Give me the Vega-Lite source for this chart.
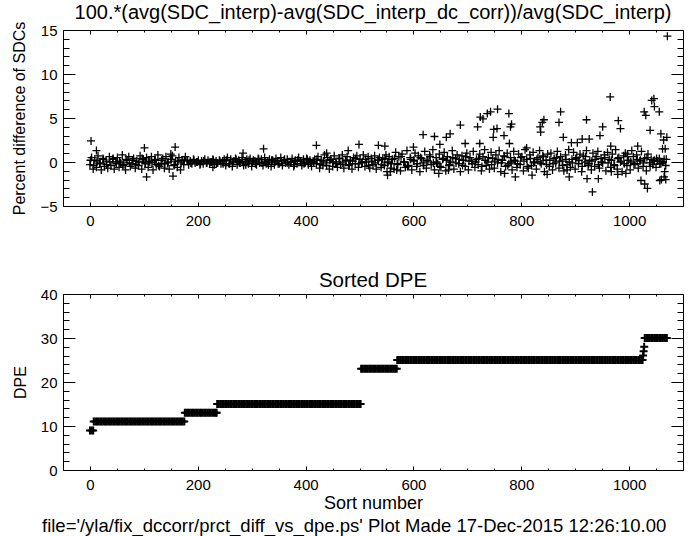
{
"$schema": "https://vega.github.io/schema/vega-lite/v6.json",
"background": "white",
"padding": {"left": 11, "top": 2, "right": 5, "bottom": 2},
"bounds": "flush",
"spacing": 88,
"config": {
  "font": "Liberation Sans",
  "view": {"stroke": "#000", "strokeWidth": 1},
  "axis": {"domain": false, "grid": false, "ticks": true, "tickColor": "#000", "tickWidth": 1, "tickOpacity": 1, "labelColor": "#000", "labelFont": "Liberation Sans", "labelFontSize": 15, "labelOverlap": false, "titleFont": "Liberation Sans", "titleFontSize": 16, "titleFontWeight": "normal", "titleColor": "#000", "format": "d", "zindex": 2},
  "title": {"font": "Liberation Sans", "fontWeight": "normal", "color": "#000"}
},
"title": {"text": "file='/yla/fix_dccorr/prct_diff_vs_dpe.ps'  Plot Made 17-Dec-2015 12:26:10.00", "orient": "bottom", "anchor": "start", "frame": "group", "fontSize": 18.5, "offset": 4, "dx": -21},
"datasets": {
"top": [
{"x":0,"y":-0.3},{"x":3,"y":0.5},{"x":6,"y":-0.8},{"x":9,"y":0.2},{"x":12,"y":-0.6},{"x":15,"y":0.7},{"x":18,"y":-0.2},{"x":21,"y":-0.9},{"x":24,"y":0.4},{"x":27,"y":-0.5},
{"x":30,"y":0.1},{"x":33,"y":-0.7},{"x":36,"y":0.6},{"x":39,"y":-0.4},{"x":42,"y":0.3},{"x":45,"y":-0.8},{"x":48,"y":0},{"x":51,"y":0.5},{"x":54,"y":-0.6},{"x":57,"y":-0.1},
{"x":60,"y":0.8},{"x":63,"y":-0.3},{"x":66,"y":-0.9},{"x":69,"y":0.2},{"x":72,"y":0.6},{"x":75,"y":-0.5},{"x":78,"y":-0.2},{"x":81,"y":0.4},{"x":84,"y":-0.7},{"x":87,"y":0.1},
{"x":90,"y":-0.4},{"x":93,"y":0.7},{"x":96,"y":-0.8},{"x":99,"y":0.3},{"x":102,"y":-0.1},{"x":105,"y":0.5},{"x":108,"y":-0.6},{"x":111,"y":0},{"x":114,"y":0.6},{"x":117,"y":-0.9},
{"x":120,"y":0.2},{"x":123,"y":-0.3},{"x":126,"y":0.8},{"x":129,"y":-0.5},{"x":132,"y":-0.2},{"x":135,"y":0.4},{"x":138,"y":-0.7},{"x":141,"y":0.6},{"x":144,"y":-0.1},{"x":147,"y":-0.8},
{"x":150,"y":0.3},{"x":153,"y":0.7},{"x":156,"y":-0.4},{"x":159,"y":0.1},{"x":162,"y":-0.6},{"x":165,"y":0.5},{"x":168,"y":-0.9},{"x":171,"y":0.2},{"x":174,"y":-0.3},{"x":177,"y":0.6},
{"x":180,"y":0.2},{"x":183,"y":-0.3},{"x":186,"y":0.1},{"x":189,"y":-0.2},{"x":192,"y":0.3},{"x":195,"y":-0.1},{"x":198,"y":0},{"x":201,"y":0.2},{"x":204,"y":-0.3},{"x":207,"y":0.1},
{"x":210,"y":-0.2},{"x":213,"y":0.3},{"x":216,"y":-0.1},{"x":219,"y":0.2},{"x":222,"y":-0.2},{"x":225,"y":0},{"x":228,"y":0.3},{"x":231,"y":-0.3},{"x":234,"y":0.1},{"x":237,"y":-0.1},
{"x":240,"y":0.2},{"x":243,"y":-0.2},{"x":246,"y":0.1},{"x":249,"y":0.3},
{"x":252,"y":-0.4},{"x":255,"y":0.5},{"x":258,"y":-0.2},{"x":261,"y":0.3},{"x":264,"y":-0.5},{"x":267,"y":0.1},{"x":270,"y":0.4},{"x":273,"y":-0.3},{"x":276,"y":0.2},{"x":279,"y":-0.1},
{"x":282,"y":0.5},{"x":285,"y":-0.4},{"x":288,"y":0},{"x":291,"y":0.3},{"x":294,"y":-0.2},{"x":297,"y":0.4},{"x":300,"y":-0.5},{"x":303,"y":0.2},{"x":306,"y":0.1},{"x":309,"y":-0.3},
{"x":312,"y":0.4},{"x":315,"y":-0.1},{"x":318,"y":0.3},{"x":321,"y":-0.4},{"x":324,"y":0.5},{"x":327,"y":-0.2},{"x":330,"y":0},{"x":333,"y":0.3},{"x":336,"y":-0.5},{"x":339,"y":0.2},
{"x":342,"y":-0.3},{"x":345,"y":0.4},{"x":348,"y":0.1},{"x":351,"y":-0.2},{"x":354,"y":0.5},{"x":357,"y":-0.4},{"x":360,"y":0.2},{"x":363,"y":-0.1},{"x":366,"y":0.3},{"x":369,"y":-0.3},
{"x":372,"y":0},{"x":375,"y":0.4},{"x":378,"y":-0.5},{"x":381,"y":0.2},{"x":384,"y":-0.2},{"x":387,"y":0.5},{"x":390,"y":0.1},{"x":393,"y":-0.4},{"x":396,"y":0.3},{"x":399,"y":-0.1},
{"x":402,"y":0.4},{"x":405,"y":-0.3},{"x":408,"y":0.2},{"x":411,"y":-0.5},{"x":414,"y":0.1},{"x":417,"y":0.3},{"x":420,"y":-0.2},
{"x":423,"y":0.6},{"x":426,"y":-0.7},{"x":429,"y":0.2},{"x":432,"y":-0.4},{"x":435,"y":0.8},{"x":438,"y":-0.1},{"x":441,"y":0.5},{"x":444,"y":-0.8},{"x":447,"y":0.3},{"x":450,"y":-0.5},
{"x":453,"y":0.7},{"x":456,"y":0},{"x":459,"y":-0.6},{"x":462,"y":0.4},{"x":465,"y":-0.3},{"x":468,"y":0.8},{"x":471,"y":-0.7},{"x":474,"y":0.1},{"x":477,"y":0.6},{"x":480,"y":-0.4},
{"x":483,"y":0.2},{"x":486,"y":-0.8},{"x":489,"y":0.5},{"x":492,"y":-0.2},{"x":495,"y":0.7},{"x":498,"y":-0.6},{"x":501,"y":0.3},{"x":504,"y":-0.1},{"x":507,"y":0.8},{"x":510,"y":-0.5},
{"x":513,"y":0},{"x":516,"y":0.6},{"x":519,"y":-0.7},{"x":522,"y":0.4},{"x":525,"y":-0.3},{"x":528,"y":0.7},{"x":531,"y":-0.8},{"x":534,"y":0.2},{"x":537,"y":0.5},{"x":540,"y":-0.6},
{"x":543,"y":0.3},{"x":546,"y":-0.4},{"x":549,"y":0.8},{"x":552,"y":-0.1},{"x":555,"y":0.6},{"x":558,"y":-0.7},
{"x":561,"y":0.3},{"x":564,"y":-0.8},{"x":567,"y":1.1},{"x":570,"y":-0.2},{"x":573,"y":0.6},{"x":576,"y":-1.0},{"x":579,"y":0.9},{"x":582,"y":0},{"x":585,"y":-0.6},{"x":588,"y":1.3},
{"x":591,"y":-0.4},{"x":594,"y":0.5},{"x":597,"y":-0.9},{"x":600,"y":0.2},{"x":603,"y":1.0},{"x":606,"y":-0.5},{"x":609,"y":0.7},{"x":612,"y":-1.1},{"x":615,"y":0.4},{"x":618,"y":-0.1},
{"x":621,"y":1.2},{"x":624,"y":-0.7},{"x":627,"y":0.1},{"x":630,"y":0.8},{"x":633,"y":-0.3},{"x":636,"y":1.4},{"x":639,"y":-0.9},{"x":642,"y":0.5},{"x":645,"y":-0.2},{"x":648,"y":0.9},
{"x":651,"y":-0.6},{"x":654,"y":0.3},{"x":657,"y":1.1},{"x":660,"y":-1.0},{"x":663,"y":0.6},{"x":666,"y":-0.4},{"x":669,"y":0},{"x":672,"y":1.3},{"x":675,"y":-0.8},{"x":678,"y":0.4},
{"x":681,"y":0.8},{"x":684,"y":-0.2},{"x":687,"y":-1.1},{"x":690,"y":0.7},{"x":693,"y":0.2},{"x":696,"y":-0.5},{"x":699,"y":1.0},{"x":702,"y":-0.9},{"x":705,"y":0.5},{"x":708,"y":0.1},
{"x":711,"y":1.2},{"x":714,"y":-0.6},{"x":717,"y":0.3},{"x":720,"y":-0.3},{"x":723,"y":0.9},{"x":726,"y":-1.0},{"x":729,"y":0.6},{"x":732,"y":1.4},{"x":735,"y":-0.4},{"x":738,"y":0},
{"x":741,"y":-0.8},{"x":744,"y":1.1},{"x":747,"y":0.4},{"x":750,"y":-0.7},{"x":753,"y":0.8},{"x":756,"y":-0.1},{"x":759,"y":1.3},{"x":762,"y":-1.1},{"x":765,"y":0.2},{"x":768,"y":0.7},
{"x":771,"y":-0.5},{"x":774,"y":1.0},{"x":777,"y":-0.2},{"x":780,"y":0.5},{"x":783,"y":-0.9},{"x":786,"y":1.2},{"x":789,"y":0.1},{"x":792,"y":-0.6},{"x":795,"y":0.9},{"x":798,"y":-0.3},
{"x":801,"y":0.6},{"x":804,"y":-1.0},{"x":807,"y":1.4},{"x":810,"y":0.3},{"x":813,"y":-0.7},{"x":816,"y":0.8},{"x":819,"y":-0.4},{"x":822,"y":1.1},{"x":825,"y":0},{"x":828,"y":-0.8},
{"x":831,"y":0.5},{"x":834,"y":1.3},{"x":837,"y":-0.2},{"x":840,"y":0.7},{"x":843,"y":-1.1},{"x":846,"y":0.2},{"x":849,"y":0.9},{"x":852,"y":-0.5},{"x":855,"y":1.0},{"x":858,"y":-0.9},
{"x":861,"y":0.4},{"x":864,"y":-0.1},{"x":867,"y":1.2},{"x":870,"y":-0.7},{"x":873,"y":0.6},{"x":876,"y":0.1},{"x":879,"y":-1.0},{"x":882,"y":0.8},{"x":885,"y":-0.3},{"x":888,"y":1.4},
{"x":891,"y":-0.6},{"x":894,"y":0.3},{"x":897,"y":1.1},{"x":900,"y":-0.8},{"x":903,"y":0.5},{"x":906,"y":-0.2},{"x":909,"y":0.9},{"x":912,"y":-1.1},{"x":915,"y":0.7},{"x":918,"y":0},
{"x":921,"y":1.3},{"x":924,"y":-0.4},{"x":927,"y":0.2},{"x":930,"y":-0.9},{"x":933,"y":1.0},{"x":936,"y":-0.5},{"x":939,"y":0.6},{"x":942,"y":1.2},{"x":945,"y":-0.7},{"x":948,"y":0.4},
{"x":951,"y":-0.1},{"x":954,"y":0.8},{"x":957,"y":-1.0},{"x":960,"y":1.1},{"x":963,"y":0.3},{"x":966,"y":-0.6},{"x":969,"y":0.9},{"x":972,"y":-0.3},{"x":975,"y":1.4},{"x":978,"y":-0.8},
{"x":981,"y":0.5},{"x":984,"y":0},{"x":987,"y":-1.1},{"x":990,"y":0.7},{"x":993,"y":1.0},{"x":996,"y":-0.4},{"x":999,"y":0.2},{"x":1002,"y":-0.9},{"x":1005,"y":1.3},{"x":1008,"y":0.6},
{"x":1011,"y":-0.2},{"x":1014,"y":0.8},{"x":1017,"y":-0.7},{"x":1020,"y":0.1},{"x":1023,"y":1.2},{"x":1026,"y":-0.5},{"x":1029,"y":0.4},{"x":1032,"y":-1.0},{"x":1035,"y":0.9},{"x":1038,"y":-0.1},
{"x":1041,"y":0.3},{"x":1044,"y":-0.3},{"x":1047,"y":0.2},{"x":1050,"y":-0.6},{"x":1053,"y":0.1},{"x":1056,"y":0.4},{"x":1059,"y":-0.2},{"x":1062,"y":0},{"x":1065,"y":0.3},{"x":1068,"y":-0.4},
{"x":1,"y":0.2},{"x":7,"y":-0.4},{"x":13,"y":0.1},{"x":19,"y":-0.1},{"x":25,"y":0.3},{"x":31,"y":-0.3},{"x":37,"y":0},{"x":43,"y":0.4},{"x":49,"y":-0.2},{"x":55,"y":0.1},
{"x":61,"y":-0.4},{"x":67,"y":0.3},{"x":73,"y":-0.1},{"x":79,"y":0.2},{"x":85,"y":-0.3},{"x":91,"y":0},{"x":97,"y":0.4},{"x":103,"y":-0.2},{"x":109,"y":0.1},{"x":115,"y":-0.1},
{"x":121,"y":0.3},{"x":127,"y":-0.4},{"x":133,"y":0.2},{"x":139,"y":-0.2},{"x":145,"y":0},{"x":151,"y":0.3},{"x":157,"y":-0.3},{"x":163,"y":0.1},{"x":169,"y":-0.1},{"x":175,"y":0.2},
{"x":181,"y":0.1},{"x":187,"y":-0.1},{"x":193,"y":0.2},{"x":199,"y":0},{"x":205,"y":-0.2},{"x":211,"y":0.1},{"x":217,"y":-0.1},{"x":223,"y":0},{"x":229,"y":0.2},{"x":235,"y":-0.1},
{"x":241,"y":0.1},{"x":247,"y":-0.2},
{"x":253,"y":0.2},{"x":259,"y":-0.2},{"x":265,"y":0},{"x":271,"y":0.3},{"x":277,"y":-0.1},{"x":283,"y":0.1},{"x":289,"y":-0.3},{"x":295,"y":0.2},{"x":301,"y":0},{"x":307,"y":-0.2},
{"x":313,"y":0.3},{"x":319,"y":-0.1},{"x":325,"y":0.1},{"x":331,"y":-0.3},{"x":337,"y":0.2},{"x":343,"y":0},{"x":349,"y":-0.2},{"x":355,"y":0.1},{"x":361,"y":0.3},{"x":367,"y":-0.1},
{"x":373,"y":0},{"x":379,"y":-0.3},{"x":385,"y":0.2},{"x":391,"y":0.1},{"x":397,"y":-0.2},{"x":403,"y":0.3},{"x":409,"y":-0.1},{"x":415,"y":0},
{"x":421,"y":0.3},{"x":427,"y":-0.3},{"x":433,"y":0.1},{"x":439,"y":-0.4},{"x":445,"y":0.2},{"x":451,"y":0},{"x":457,"y":-0.2},{"x":463,"y":0.4},{"x":469,"y":-0.1},{"x":475,"y":0.2},
{"x":481,"y":-0.3},{"x":487,"y":0.1},{"x":493,"y":0.4},{"x":499,"y":-0.2},{"x":505,"y":0},{"x":511,"y":0.3},{"x":517,"y":-0.4},{"x":523,"y":0.1},{"x":529,"y":-0.1},{"x":535,"y":0.2},
{"x":541,"y":-0.3},{"x":547,"y":0.4},{"x":553,"y":0},{"x":559,"y":-0.2},
{"x":565,"y":0.4},{"x":571,"y":-0.3},{"x":577,"y":0.6},{"x":583,"y":0},{"x":589,"y":-0.5},{"x":595,"y":0.3},{"x":601,"y":0.1},{"x":607,"y":-0.2},{"x":613,"y":0.5},{"x":619,"y":-0.4},
{"x":625,"y":0.2},{"x":631,"y":0.6},{"x":637,"y":-0.1},{"x":643,"y":0},{"x":649,"y":-0.5},{"x":655,"y":0.4},{"x":661,"y":0.2},{"x":667,"y":-0.3},{"x":673,"y":0.5},{"x":679,"y":-0.1},
{"x":685,"y":0.3},{"x":691,"y":-0.4},{"x":697,"y":0.6},{"x":703,"y":0.1},{"x":709,"y":-0.2},{"x":715,"y":0},{"x":721,"y":0.4},{"x":727,"y":-0.5},{"x":733,"y":0.2},{"x":739,"y":0.5},
{"x":745,"y":-0.3},{"x":751,"y":0.1},{"x":757,"y":0.3},{"x":763,"y":-0.1},{"x":769,"y":0.6},{"x":775,"y":-0.4},{"x":781,"y":0},{"x":787,"y":0.2},{"x":793,"y":-0.2},{"x":799,"y":0.5},
{"x":805,"y":0.1},{"x":811,"y":-0.5},{"x":817,"y":0.4},{"x":823,"y":-0.1},{"x":829,"y":0.3},{"x":835,"y":0},{"x":841,"y":0.6},{"x":847,"y":-0.3},{"x":853,"y":0.2},{"x":859,"y":-0.2},
{"x":865,"y":0.5},{"x":871,"y":0.1},{"x":877,"y":-0.4},{"x":883,"y":0.3},{"x":889,"y":0},{"x":895,"y":-0.1},{"x":901,"y":0.4},{"x":907,"y":0.2},{"x":913,"y":-0.5},{"x":919,"y":0.6},
{"x":925,"y":-0.2},{"x":931,"y":0.1},{"x":937,"y":0.3},{"x":943,"y":-0.3},{"x":949,"y":0},{"x":955,"y":0.5},{"x":961,"y":-0.1},{"x":967,"y":0.2},{"x":973,"y":-0.4},{"x":979,"y":0.4},
{"x":985,"y":0.1},{"x":991,"y":-0.2},{"x":997,"y":0.6},{"x":1003,"y":0},{"x":1009,"y":-0.3},{"x":1015,"y":0.3},{"x":1021,"y":0.2},{"x":1027,"y":-0.1},{"x":1033,"y":0.5},{"x":1039,"y":-0.5},
{"x":1045,"y":0.1},{"x":1051,"y":0.4},{"x":1057,"y":-0.2},{"x":1063,"y":0},{"x":1069,"y":0.3},
{"x":2,"y":2.4},{"x":12,"y":1.3},{"x":101,"y":1.6},{"x":105,"y":-1.7},{"x":150,"y":0.9},{"x":154,"y":-1.6},{"x":158,"y":1.7},{"x":228,"y":-0.6},{"x":284,"y":1.0},{"x":322,"y":1.5},
{"x":420,"y":1.9},{"x":439,"y":1.0},{"x":479,"y":1.3},{"x":499,"y":2.0},{"x":535,"y":1.9},{"x":547,"y":1.8},{"x":551,"y":-1.1},{"x":552,"y":-1.5},{"x":557,"y":-1.1},{"x":569,"y":-0.9},
{"x":600,"y":1.7},{"x":618,"y":3.1},{"x":639,"y":2.9},{"x":647,"y":-1.3},{"x":649,"y":2.0},{"x":661,"y":2.8},{"x":665,"y":-0.9},{"x":668,"y":3.2},{"x":687,"y":4.2},{"x":696,"y":2.1},
{"x":719,"y":4.0},{"x":723,"y":2.1},{"x":724,"y":5.1},{"x":729,"y":4.9},{"x":737,"y":5.5},{"x":743,"y":5.7},{"x":748,"y":2.8},{"x":749,"y":3.7},{"x":755,"y":3.8},{"x":756,"y":6.0},
{"x":768,"y":3.0},{"x":769,"y":-1.3},{"x":777,"y":5.5},{"x":778,"y":2.1},{"x":780,"y":4.0},{"x":782,"y":4.3},{"x":789,"y":-1.7},{"x":810,"y":1.6},{"x":820,"y":-1.5},{"x":835,"y":4.0},
{"x":836,"y":3.4},{"x":839,"y":4.5},{"x":842,"y":4.8},{"x":848,"y":-1.4},{"x":870,"y":4.5},{"x":873,"y":5.7},{"x":878,"y":2.8},{"x":885,"y":-0.9},{"x":889,"y":-1.7},{"x":893,"y":2.2},
{"x":904,"y":2.2},{"x":913,"y":2.6},{"x":921,"y":4.8},{"x":922,"y":-1.9},{"x":926,"y":2.6},{"x":932,"y":-3.4},{"x":943,"y":-1.9},{"x":946,"y":3.0},{"x":951,"y":4.0},{"x":965,"y":7.4},
{"x":966,"y":1.8},{"x":967,"y":-1.1},{"x":979,"y":-1.4},{"x":980,"y":4.7},{"x":984,"y":3.8},{"x":994,"y":-1.3},{"x":997,"y":0.9},{"x":1016,"y":1.8},{"x":1022,"y":-2.1},{"x":1028,"y":5.7},
{"x":1029,"y":-2.5},{"x":1031,"y":5.3},{"x":1034,"y":-3.0},{"x":1039,"y":3.6},{"x":1042,"y":7.0},{"x":1046,"y":7.2},{"x":1047,"y":6.3},{"x":1056,"y":5.7},{"x":1057,"y":-2.1},{"x":1059,"y":3.2},
{"x":1060,"y":-2.0},{"x":1062,"y":1.5},{"x":1064,"y":2.5},{"x":1065,"y":-1.7},{"x":1066,"y":-1.1},{"x":1067,"y":1.5},{"x":1068,"y":-2.0},{"x":1070,"y":2.8},{"x":1071,"y":14.3}
],
"bot": [
{"x":0,"y":9},{"x":3,"y":9},{"x":6,"y":9},
{"x":7,"y":11},{"x":10,"y":11},{"x":13,"y":11},{"x":16,"y":11},{"x":19,"y":11},{"x":22,"y":11},{"x":25,"y":11},{"x":28,"y":11},{"x":31,"y":11},{"x":34,"y":11},
{"x":37,"y":11},{"x":40,"y":11},{"x":43,"y":11},{"x":46,"y":11},{"x":49,"y":11},{"x":52,"y":11},{"x":55,"y":11},{"x":58,"y":11},{"x":61,"y":11},{"x":64,"y":11},
{"x":67,"y":11},{"x":70,"y":11},{"x":73,"y":11},{"x":76,"y":11},{"x":79,"y":11},{"x":82,"y":11},{"x":85,"y":11},{"x":88,"y":11},{"x":91,"y":11},{"x":94,"y":11},
{"x":97,"y":11},{"x":100,"y":11},{"x":103,"y":11},{"x":106,"y":11},{"x":109,"y":11},{"x":112,"y":11},{"x":115,"y":11},{"x":118,"y":11},{"x":121,"y":11},{"x":124,"y":11},
{"x":127,"y":11},{"x":130,"y":11},{"x":133,"y":11},{"x":136,"y":11},{"x":139,"y":11},{"x":142,"y":11},{"x":145,"y":11},{"x":148,"y":11},{"x":151,"y":11},{"x":154,"y":11},
{"x":157,"y":11},{"x":160,"y":11},{"x":163,"y":11},{"x":166,"y":11},{"x":169,"y":11},{"x":172,"y":11},{"x":175,"y":11},
{"x":176,"y":13},{"x":179,"y":13},{"x":182,"y":13},{"x":185,"y":13},{"x":188,"y":13},{"x":191,"y":13},{"x":194,"y":13},{"x":197,"y":13},{"x":200,"y":13},{"x":203,"y":13},
{"x":206,"y":13},{"x":209,"y":13},{"x":212,"y":13},{"x":215,"y":13},{"x":218,"y":13},{"x":221,"y":13},{"x":224,"y":13},{"x":227,"y":13},{"x":230,"y":13},{"x":233,"y":13},{"x":235,"y":13},
{"x":236,"y":15},{"x":239,"y":15},{"x":242,"y":15},{"x":245,"y":15},{"x":248,"y":15},{"x":251,"y":15},{"x":254,"y":15},{"x":257,"y":15},{"x":260,"y":15},{"x":263,"y":15},
{"x":266,"y":15},{"x":269,"y":15},{"x":272,"y":15},{"x":275,"y":15},{"x":278,"y":15},{"x":281,"y":15},{"x":284,"y":15},{"x":287,"y":15},{"x":290,"y":15},{"x":293,"y":15},
{"x":296,"y":15},{"x":299,"y":15},{"x":302,"y":15},{"x":305,"y":15},{"x":308,"y":15},{"x":311,"y":15},{"x":314,"y":15},{"x":317,"y":15},{"x":320,"y":15},{"x":323,"y":15},
{"x":326,"y":15},{"x":329,"y":15},{"x":332,"y":15},{"x":335,"y":15},{"x":338,"y":15},{"x":341,"y":15},{"x":344,"y":15},{"x":347,"y":15},{"x":350,"y":15},{"x":353,"y":15},
{"x":356,"y":15},{"x":359,"y":15},{"x":362,"y":15},{"x":365,"y":15},{"x":368,"y":15},{"x":371,"y":15},{"x":374,"y":15},{"x":377,"y":15},{"x":380,"y":15},{"x":383,"y":15},
{"x":386,"y":15},{"x":389,"y":15},{"x":392,"y":15},{"x":395,"y":15},{"x":398,"y":15},{"x":401,"y":15},{"x":404,"y":15},{"x":407,"y":15},{"x":410,"y":15},{"x":413,"y":15},
{"x":416,"y":15},{"x":419,"y":15},{"x":422,"y":15},{"x":425,"y":15},{"x":428,"y":15},{"x":431,"y":15},{"x":434,"y":15},{"x":437,"y":15},{"x":440,"y":15},{"x":443,"y":15},
{"x":446,"y":15},{"x":449,"y":15},{"x":452,"y":15},{"x":455,"y":15},{"x":458,"y":15},{"x":461,"y":15},{"x":464,"y":15},{"x":467,"y":15},{"x":470,"y":15},{"x":473,"y":15},
{"x":476,"y":15},{"x":479,"y":15},{"x":482,"y":15},{"x":485,"y":15},{"x":488,"y":15},{"x":491,"y":15},{"x":494,"y":15},{"x":497,"y":15},{"x":500,"y":15},{"x":502,"y":15},
{"x":503,"y":23},{"x":506,"y":23},{"x":509,"y":23},{"x":512,"y":23},{"x":515,"y":23},{"x":518,"y":23},{"x":521,"y":23},{"x":524,"y":23},{"x":527,"y":23},{"x":530,"y":23},
{"x":533,"y":23},{"x":536,"y":23},{"x":539,"y":23},{"x":542,"y":23},{"x":545,"y":23},{"x":548,"y":23},{"x":551,"y":23},{"x":554,"y":23},{"x":557,"y":23},{"x":560,"y":23},
{"x":563,"y":23},{"x":566,"y":23},{"x":569,"y":23},
{"x":570,"y":25},{"x":573,"y":25},{"x":576,"y":25},{"x":579,"y":25},{"x":582,"y":25},{"x":585,"y":25},{"x":588,"y":25},{"x":591,"y":25},{"x":594,"y":25},{"x":597,"y":25},
{"x":600,"y":25},{"x":603,"y":25},{"x":606,"y":25},{"x":609,"y":25},{"x":612,"y":25},{"x":615,"y":25},{"x":618,"y":25},{"x":621,"y":25},{"x":624,"y":25},{"x":627,"y":25},
{"x":630,"y":25},{"x":633,"y":25},{"x":636,"y":25},{"x":639,"y":25},{"x":642,"y":25},{"x":645,"y":25},{"x":648,"y":25},{"x":651,"y":25},{"x":654,"y":25},{"x":657,"y":25},
{"x":660,"y":25},{"x":663,"y":25},{"x":666,"y":25},{"x":669,"y":25},{"x":672,"y":25},{"x":675,"y":25},{"x":678,"y":25},{"x":681,"y":25},{"x":684,"y":25},{"x":687,"y":25},
{"x":690,"y":25},{"x":693,"y":25},{"x":696,"y":25},{"x":699,"y":25},{"x":702,"y":25},{"x":705,"y":25},{"x":708,"y":25},{"x":711,"y":25},{"x":714,"y":25},{"x":717,"y":25},
{"x":720,"y":25},{"x":723,"y":25},{"x":726,"y":25},{"x":729,"y":25},{"x":732,"y":25},{"x":735,"y":25},{"x":738,"y":25},{"x":741,"y":25},{"x":744,"y":25},{"x":747,"y":25},
{"x":750,"y":25},{"x":753,"y":25},{"x":756,"y":25},{"x":759,"y":25},{"x":762,"y":25},{"x":765,"y":25},{"x":768,"y":25},{"x":771,"y":25},{"x":774,"y":25},{"x":777,"y":25},
{"x":780,"y":25},{"x":783,"y":25},{"x":786,"y":25},{"x":789,"y":25},{"x":792,"y":25},{"x":795,"y":25},{"x":798,"y":25},{"x":801,"y":25},{"x":804,"y":25},{"x":807,"y":25},
{"x":810,"y":25},{"x":813,"y":25},{"x":816,"y":25},{"x":819,"y":25},{"x":822,"y":25},{"x":825,"y":25},{"x":828,"y":25},{"x":831,"y":25},{"x":834,"y":25},{"x":837,"y":25},
{"x":840,"y":25},{"x":843,"y":25},{"x":846,"y":25},{"x":849,"y":25},{"x":852,"y":25},{"x":855,"y":25},{"x":858,"y":25},{"x":861,"y":25},{"x":864,"y":25},{"x":867,"y":25},
{"x":870,"y":25},{"x":873,"y":25},{"x":876,"y":25},{"x":879,"y":25},{"x":882,"y":25},{"x":885,"y":25},{"x":888,"y":25},{"x":891,"y":25},{"x":894,"y":25},{"x":897,"y":25},
{"x":900,"y":25},{"x":903,"y":25},{"x":906,"y":25},{"x":909,"y":25},{"x":912,"y":25},{"x":915,"y":25},{"x":918,"y":25},{"x":921,"y":25},{"x":924,"y":25},{"x":927,"y":25},
{"x":930,"y":25},{"x":933,"y":25},{"x":936,"y":25},{"x":939,"y":25},{"x":942,"y":25},{"x":945,"y":25},{"x":948,"y":25},{"x":951,"y":25},{"x":954,"y":25},{"x":957,"y":25},
{"x":960,"y":25},{"x":963,"y":25},{"x":966,"y":25},{"x":969,"y":25},{"x":972,"y":25},{"x":975,"y":25},{"x":978,"y":25},{"x":981,"y":25},{"x":984,"y":25},{"x":987,"y":25},
{"x":990,"y":25},{"x":993,"y":25},{"x":996,"y":25},{"x":999,"y":25},{"x":1002,"y":25},{"x":1005,"y":25},{"x":1008,"y":25},{"x":1011,"y":25},{"x":1014,"y":25},{"x":1017,"y":25},
{"x":1020,"y":25},{"x":1023,"y":25},{"x":1025,"y":25},
{"x":1026,"y":26},{"x":1027,"y":27},{"x":1028,"y":28},
{"x":1029,"y":30},{"x":1032,"y":30},{"x":1035,"y":30},{"x":1038,"y":30},{"x":1041,"y":30},{"x":1044,"y":30},{"x":1047,"y":30},{"x":1050,"y":30},{"x":1053,"y":30},{"x":1056,"y":30},
{"x":1059,"y":30},{"x":1062,"y":30},{"x":1065,"y":30},{"x":1068,"y":30},{"x":1070,"y":30}
]
},
"vconcat": [
{
  "width": 620, "height": 176,
  "data": {"name": "top"},
  "title": {"text": "100.*(avg(SDC_interp)-avg(SDC_interp_dc_corr))/avg(SDC_interp)", "fontSize": 20, "offset": -2},
  "layer": [
    {"mark": {"type": "point", "shape": "M-1,0H1M0,-1V1", "filled": false, "color": "#000", "stroke": "#000", "strokeWidth": 1.3, "size": 64, "opacity": 1},
     "encoding": {
       "x": {"field": "x", "type": "quantitative", "scale": {"domain": [-50, 1100], "nice": false, "zero": false}, "axis": {"orient": "bottom", "values": [0,200,400,600,800,1000], "offset": -4, "tickSize": 4, "labelPadding": 7, "title": null}},
       "y": {"field": "y", "type": "quantitative", "scale": {"domain": [-5, 15], "nice": false, "zero": false}, "axis": {"orient": "left", "values": [-5,0,5,10,15], "offset": -12, "tickSize": 12, "labelPadding": 6, "title": "Percent difference of SDCs", "titlePadding": 12}}
     }},
    {"mark": {"type": "point", "opacity": 0},
     "encoding": {
       "x": {"field": "x", "type": "quantitative", "axis": {"orient": "top", "values": [0,200,400,600,800,1000], "offset": -4, "tickSize": 4, "labels": false, "title": null}},
       "y": {"field": "y", "type": "quantitative", "axis": {"orient": "right", "values": [-5,0,5,10,15], "offset": -12, "tickSize": 12, "labels": false, "title": null}}
     }},
    {"mark": {"type": "point", "opacity": 0},
     "encoding": {
       "x": {"field": "x", "type": "quantitative", "axis": {"orient": "bottom", "values": [50,100,150,250,300,350,450,500,550,650,700,750,850,900,950,1050], "offset": -2, "tickSize": 2, "labels": false, "title": null}},
       "y": {"field": "y", "type": "quantitative", "axis": {"orient": "left", "values": [-4,-3,-2,-1,1,2,3,4,6,7,8,9,11,12,13,14], "offset": -6, "tickSize": 6, "labels": false, "title": null}}
     }},
    {"mark": {"type": "point", "opacity": 0},
     "encoding": {
       "x": {"field": "x", "type": "quantitative", "axis": {"orient": "top", "values": [50,100,150,250,300,350,450,500,550,650,700,750,850,900,950,1050], "offset": -2, "tickSize": 2, "labels": false, "title": null}},
       "y": {"field": "y", "type": "quantitative", "axis": {"orient": "right", "values": [-4,-3,-2,-1,1,2,3,4,6,7,8,9,11,12,13,14], "offset": -6, "tickSize": 6, "labels": false, "title": null}}
     }}
  ],
  "resolve": {"axis": {"x": "independent", "y": "independent"}}
},
{
  "width": 620, "height": 176,
  "data": {"name": "bot"},
  "title": {"text": "Sorted DPE", "fontSize": 20.5, "offset": -4},
  "layer": [
    {"mark": {"type": "point", "shape": "M-1,0H1M0,-1V1", "filled": false, "color": "#000", "stroke": "#000", "strokeWidth": 2, "size": 64, "opacity": 1},
     "encoding": {
       "x": {"field": "x", "type": "quantitative", "scale": {"domain": [-50, 1100], "nice": false, "zero": false}, "axis": {"orient": "bottom", "values": [0,200,400,600,800,1000], "offset": -4, "tickSize": 4, "labelPadding": 7, "title": "Sort number", "titleFontSize": 18, "titlePadding": 2}},
       "y": {"field": "y", "type": "quantitative", "scale": {"domain": [0, 40], "nice": false, "zero": false}, "axis": {"orient": "left", "values": [0,10,20,30,40], "offset": -12, "tickSize": 12, "labelPadding": 6, "title": "DPE", "titlePadding": 12}}
     }},
    {"mark": {"type": "point", "opacity": 0},
     "encoding": {
       "x": {"field": "x", "type": "quantitative", "axis": {"orient": "top", "values": [0,200,400,600,800,1000], "offset": -4, "tickSize": 4, "labels": false, "title": null}},
       "y": {"field": "y", "type": "quantitative", "axis": {"orient": "right", "values": [0,10,20,30,40], "offset": -12, "tickSize": 12, "labels": false, "title": null}}
     }},
    {"mark": {"type": "point", "opacity": 0},
     "encoding": {
       "x": {"field": "x", "type": "quantitative", "axis": {"orient": "bottom", "values": [50,100,150,250,300,350,450,500,550,650,700,750,850,900,950,1050], "offset": -2, "tickSize": 2, "labels": false, "title": null}},
       "y": {"field": "y", "type": "quantitative", "axis": {"orient": "left", "values": [2,4,6,8,12,14,16,18,22,24,26,28,32,34,36,38], "offset": -6, "tickSize": 6, "labels": false, "title": null}}
     }},
    {"mark": {"type": "point", "opacity": 0},
     "encoding": {
       "x": {"field": "x", "type": "quantitative", "axis": {"orient": "top", "values": [50,100,150,250,300,350,450,500,550,650,700,750,850,900,950,1050], "offset": -2, "tickSize": 2, "labels": false, "title": null}},
       "y": {"field": "y", "type": "quantitative", "axis": {"orient": "right", "values": [2,4,6,8,12,14,16,18,22,24,26,28,32,34,36,38], "offset": -6, "tickSize": 6, "labels": false, "title": null}}
     }}
  ],
  "resolve": {"axis": {"x": "independent", "y": "independent"}}
}
]
}
